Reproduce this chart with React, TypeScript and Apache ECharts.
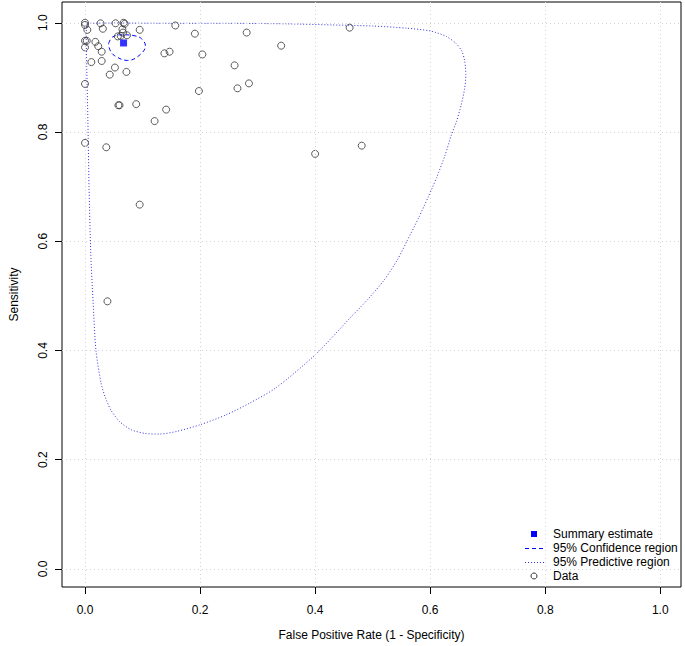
import React, { useEffect, useRef } from "react";
import * as echarts from "echarts";

// Study data: false positive rate (1 - specificity) and sensitivity
const fprValues = [
  0, 0, 0.004, 0.027, 0.031, 0.053, 0.067, 0.069, 0.065, 0.066,
  0.062, 0.057, 0.073, 0.095, 0.157, 0.191, 0.281, 0, 0.003, 0,
  0.018, 0.023, 0.029, 0.011, 0.029, 0.052, 0.043, 0.072, 0.138, 0.147,
  0.204, 0.26, 0.285, 0.265, 0.198, 0, 0.058, 0.06, 0.089, 0.141,
  0.121, 0.341, 0.46, 0.4, 0.481, 0, 0.037, 0.095, 0.039,
];
const sensValues = [
  1.0, 0.996, 0.987, 0.999, 0.989, 0.999, 1.0, 0.998, 0.988, 0.982,
  0.976, 0.975, 0.977, 0.987, 0.995, 0.98, 0.982, 0.967, 0.967, 0.955,
  0.965, 0.957, 0.947, 0.928, 0.93, 0.918, 0.905, 0.91, 0.944, 0.947,
  0.942, 0.922, 0.889, 0.88, 0.875, 0.888, 0.849, 0.849, 0.851, 0.841,
  0.82, 0.958, 0.991, 0.76, 0.775, 0.78, 0.772, 0.667, 0.49,
];

// Summary estimate
const summaryFpr = [0.067];
const summarySens = [0.963];

// 95% confidence region outline
const confFpr = [0.041, 0.048, 0.065, 0.087, 0.098, 0.105, 0.094, 0.074, 0.051, 0.043, 0.041];
const confSens = [0.962, 0.974, 0.978, 0.976, 0.971, 0.958, 0.94, 0.931, 0.94, 0.951, 0.962];

// 95% predictive region outline
const predFpr = [
  0.004, 0.05, 0.15, 0.25, 0.35, 0.43, 0.5, 0.56, 0.6, 0.628,
  0.645, 0.655, 0.66, 0.662, 0.66, 0.654, 0.646, 0.637, 0.626, 0.611,
  0.597, 0.58, 0.56, 0.543, 0.52, 0.491, 0.463, 0.4, 0.331,
  0.285, 0.245, 0.2, 0.16, 0.13, 0.105, 0.08, 0.06, 0.045, 0.035,
  0.028, 0.019, 0.014, 0.01, 0.007, 0.005, 0.003, 0.002, 0.004,
];
const predSens = [
  0.999, 0.9995, 0.999, 0.999, 0.998, 0.996, 0.994, 0.99, 0.985, 0.975,
  0.962, 0.948, 0.93, 0.905, 0.88, 0.85, 0.82, 0.795, 0.758, 0.716,
  0.682, 0.643, 0.601, 0.566, 0.529, 0.493, 0.462, 0.392, 0.331,
  0.303, 0.282, 0.264, 0.252, 0.247, 0.248, 0.255, 0.27, 0.291, 0.315,
  0.34, 0.4, 0.49, 0.578, 0.7, 0.82, 0.92, 0.98, 0.999,
];

const tickValues = [0, 0.2, 0.4, 0.6, 0.8, 1.0];
const tickLabels = ["0.0", "0.2", "0.4", "0.6", "0.8", "1.0"];
const legendLabels = ["Summary estimate", "95% Confidence region", "95% Predictive region", "Data"];
const xTitle = "False Positive Rate (1 - Specificity)";
const yTitle = "Sensitivity";

const FONT = "'Liberation Sans', Arial, Helvetica, sans-serif";

export default function App() {
  const ref = useRef<HTMLDivElement>(null);

  useEffect(() => {
    if (!ref.current) return;
    const chart = echarts.init(ref.current, undefined, { renderer: "svg" });

    const fmt = (v: number) => {
      const i = tickValues.findIndex((t) => Math.abs(t - v) < 1e-9);
      return i >= 0 ? tickLabels[i] : "";
    };

    const rowY = [534, 548, 562, 576];
    const symX = 534;
    const textX = 553;

    const axisCommon = {
      type: "value" as const,
      axisLine: { show: false, onZero: false },
      axisTick: {
        show: true,
        inside: false,
        length: 7,
        customValues: tickValues,
        lineStyle: { color: "#000", width: 1 },
      },
      splitLine: { show: false },
      nameLocation: "middle" as const,
      nameTextStyle: { fontFamily: FONT, fontSize: 12, color: "#000" },
    };

    chart.setOption({
      animation: false,
      backgroundColor: "#fff",
      grid: {
        left: 54,
        right: 4,
        top: 2,
        bottom: 59,
        show: true,
        borderColor: "#000",
        borderWidth: 1,
        backgroundColor: "transparent",
      },
      xAxis: {
        ...axisCommon,
        min: -0.04,
        max: 1.036,
        position: "bottom",
        name: xTitle,
        nameGap: 42,
        axisLabel: {
          customValues: tickValues,
          formatter: fmt,
          margin: 17,
          fontFamily: FONT,
          fontSize: 12,
          color: "#000",
        },
      },
      yAxis: {
        ...axisCommon,
        min: -0.033,
        max: 1.038,
        position: "left",
        name: yTitle,
        nameGap: 42,
        axisLabel: {
          customValues: tickValues,
          formatter: fmt,
          rotate: 90,
          margin: 13,
          fontFamily: FONT,
          fontSize: 12,
          color: "#000",
        },
      },
      series: [
        {
          type: "line",
          name: "grid",
          data: [[-1, -1]],
          showSymbol: false,
          silent: true,
          z: 0,
          markLine: {
            silent: true,
            symbol: "none",
            label: { show: false },
            lineStyle: { color: "#d3d3d3", type: [1, 3], width: 1 },
            data: [
              ...tickValues.map((v) => ({ xAxis: v })),
              ...tickValues.map((v) => ({ yAxis: v })),
            ],
          },
        },
        {
          type: "line",
          name: legendLabels[2],
          data: predFpr.map((x, i) => [x, predSens[i]]),
          showSymbol: false,
          symbol: "none",
          smooth: 0.25,
          lineStyle: { color: "#3333dd", width: 1, type: [1, 2] },
          z: 2,
        },
        {
          type: "line",
          name: legendLabels[1],
          data: confFpr.map((x, i) => [x, confSens[i]]),
          showSymbol: false,
          symbol: "none",
          smooth: 0.4,
          lineStyle: { color: "#0000ff", width: 1, type: [4, 3] },
          z: 3,
        },
        {
          type: "scatter",
          name: legendLabels[3],
          data: fprValues.map((x, i) => [x, sensValues[i]]),
          symbol: "circle",
          symbolSize: 7,
          itemStyle: { color: "rgba(0,0,0,0)", borderColor: "#333", borderWidth: 1 },
          z: 4,
        },
        {
          type: "scatter",
          name: legendLabels[0],
          data: summaryFpr.map((x, i) => [x, summarySens[i]]),
          symbol: "rect",
          symbolSize: 7,
          itemStyle: { color: "#0000ff" },
          z: 5,
        },
      ],
      graphic: [
        {
          type: "rect",
          z: 11,
          shape: { x: symX - 3, y: rowY[0] - 3, width: 6, height: 6 },
          style: { fill: "#0000ff" },
        },
        {
          type: "line",
          z: 11,
          shape: { x1: 525, y1: rowY[1] + 0.5, x2: 545, y2: rowY[1] + 0.5 },
          style: { stroke: "#0000ff", lineWidth: 1, lineDash: [4, 3] },
        },
        {
          type: "line",
          z: 11,
          shape: { x1: 525, y1: rowY[2] + 0.5, x2: 545, y2: rowY[2] + 0.5 },
          style: { stroke: "#3333dd", lineWidth: 1, lineDash: [1, 2] },
        },
        {
          type: "circle",
          z: 11,
          shape: { cx: symX, cy: rowY[3], r: 3 },
          style: { fill: "none", stroke: "#333", lineWidth: 1 },
        },
        ...legendLabels.map((t, i) => ({
          type: "text",
          z: 11,
          x: textX,
          y: rowY[i],
          style: {
            text: t,
            fontFamily: FONT,
            fontSize: 12,
            fill: "#000",
            verticalAlign: "middle",
            align: "left",
          },
        })),
      ],
    });

    return () => chart.dispose();
  }, []);

  return (
    <div
      ref={ref}
      style={{ position: "absolute", left: 0, top: 0, width: 685, height: 646 }}
    />
  );
}
